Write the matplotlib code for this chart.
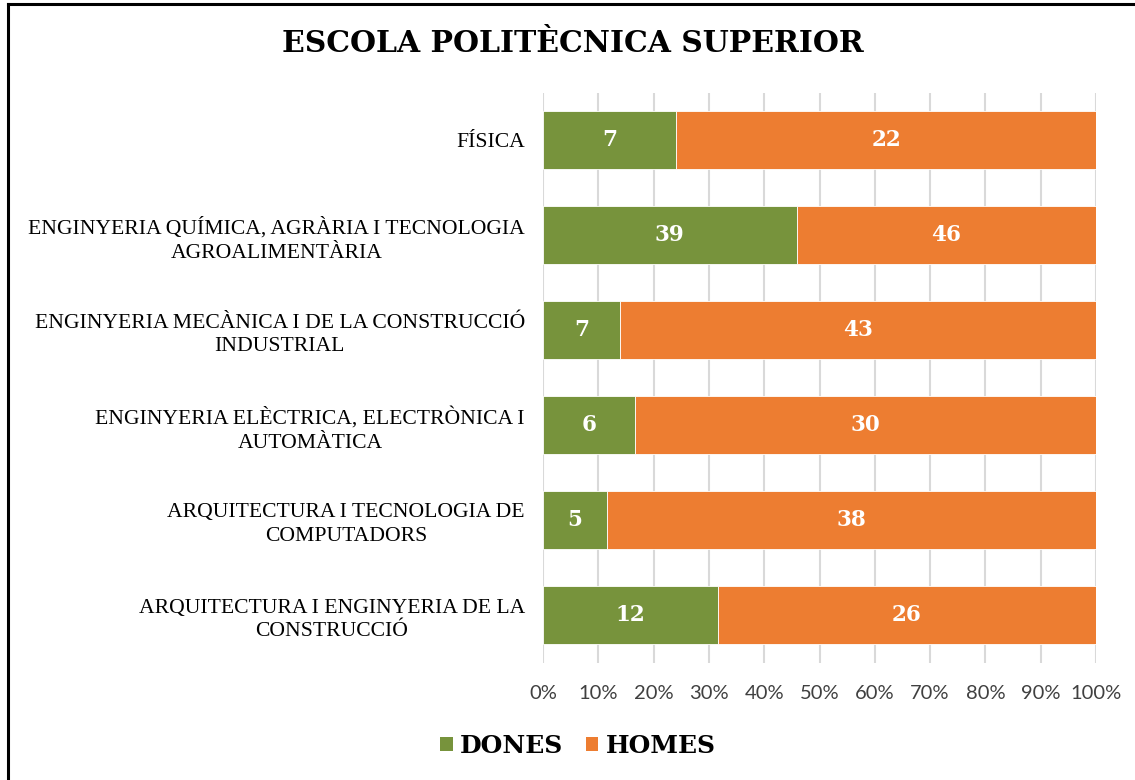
import matplotlib
matplotlib.use("Agg")
import matplotlib.pyplot as plt
from matplotlib.patches import Patch
from matplotlib.lines import Line2D
import numpy as np

categories = [
    "ARQUITECTURA I ENGINYERIA DE LA\nCONSTRUCCIÓ",
    "ARQUITECTURA I TECNOLOGIA DE\nCOMPUTADORS",
    "ENGINYERIA ELÈCTRICA, ELECTRÒNICA I\nAUTOMÀTICA",
    "ENGINYERIA MECÀNICA I DE LA CONSTRUCCIÓ\nINDUSTRIAL",
    "ENGINYERIA QUÍMICA, AGRÀRIA I TECNOLOGIA\nAGROALIMENTÀRIA",
    "FÍSICA",
]
dones = [12, 5, 6, 7, 39, 7]
homes = [26, 38, 30, 43, 46, 22]
xticks = [0, 10, 20, 30, 40, 50, 60, 70, 80, 90, 100]
xticklabels = ["0%", "10%", "20%", "30%", "40%", "50%", "60%", "70%", "80%", "90%", "100%"]

GREEN = "#77933C"
ORANGE = "#ED7D31"

W, H = 1135, 780
fig = plt.figure(figsize=(W / 100, H / 100), dpi=100)
ax = fig.add_axes([543 / W, 1 - 662.5 / H, (1096 - 543) / W, (662.5 - 92.5) / H])

d = np.array(dones, float)
h = np.array(homes, float)
tot = d + h
dp = d / tot * 100
hp = h / tot * 100
y = np.arange(len(categories))

ax.barh(y, dp, height=0.61, color=GREEN, edgecolor="white", linewidth=0.6, zorder=3)
ax.barh(y, hp, left=dp, height=0.61, color=ORANGE, edgecolor="white", linewidth=0.6, zorder=3)

num_font = dict(family="DejaVu Serif", weight="bold", size=15.5, color="white")
for i in range(len(categories)):
    ax.text(dp[i] / 2, y[i], str(dones[i]), ha="center", va="center", zorder=4, **num_font)
    ax.text(dp[i] + hp[i] / 2, y[i], str(homes[i]), ha="center", va="center", zorder=4, **num_font)

ax.set_xlim(0, 100)
ax.set_ylim(-0.5, len(categories) - 0.5)
ax.set_xticks(xticks)
ax.set_xticklabels(xticklabels, family="Lato", size=14.5, color="#404040")
ax.tick_params(axis="x", length=0, pad=16)
ax.set_yticks(y)
ax.set_yticklabels(categories, family="Liberation Serif", size=15.6, color="black",
                   multialignment="center", linespacing=1.35)
ax.tick_params(axis="y", length=0, pad=13)
for s in ax.spines.values():
    s.set_visible(False)
ax.grid(axis="x", color="#D9D9D9", linewidth=1.5, zorder=0)
ax.set_axisbelow(True)

fig.text(573 / W, 1 - 44 / H, "ESCOLA POLITÈCNICA SUPERIOR", ha="center", va="center",
         family="DejaVu Serif", weight="bold", size=21.5)

handles = [Patch(facecolor=GREEN, label="DONES"), Patch(facecolor=ORANGE, label="HOMES")]
fig.legend(handles=handles, loc="center", bbox_to_anchor=(578 / W, 1 - 746 / H), ncol=2,
           frameon=False, prop=dict(family="DejaVu Serif", weight="bold", size=18),
           handlelength=0.5, handleheight=0.5, handletextpad=0.3, columnspacing=0.9)

# border lines (top and left)
fig.add_artist(Line2D([8 / W, 1], [1 - 4 / H, 1 - 4 / H], color="black", linewidth=2.2,
                      transform=fig.transFigure))
fig.add_artist(Line2D([8 / W, 8 / W], [0, 1 - 4 / H], color="black", linewidth=2.2,
                      transform=fig.transFigure))

fig.savefig("out.png", dpi=100, facecolor="white")
